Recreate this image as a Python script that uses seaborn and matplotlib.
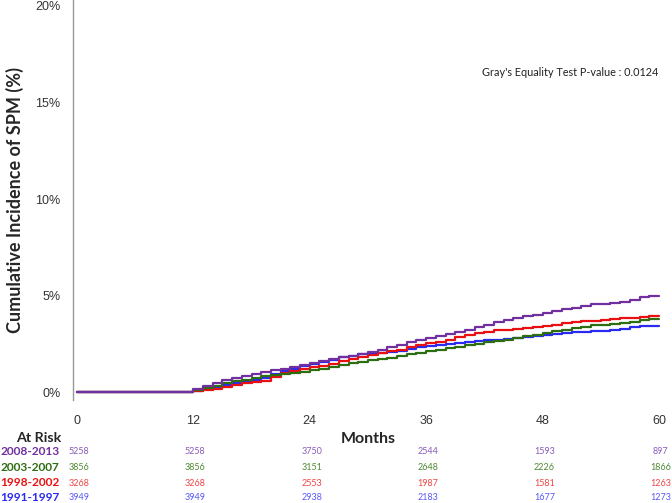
import matplotlib as mpl
import matplotlib.pyplot as plt
import matplotlib.transforms as mtransforms
import seaborn as sns
import pandas as pd
import numpy as np

# Months at which the curves are read (monthly from 12 on)
months = [0] + list(range(12, 61))

# Cumulative incidence (%) per period
inc_2008 = [0, 0, 0.15, 0.33, 0.48, 0.62, 0.72, 0.82, 0.95, 1.05, 1.13, 1.22, 1.32, 1.42,
            1.5, 1.6, 1.7, 1.8, 1.88, 1.98, 2.08, 2.2, 2.32, 2.45, 2.58, 2.7, 2.8, 2.9,
            3.0, 3.1, 3.22, 3.35, 3.5, 3.65, 3.75, 3.85, 3.92, 4.0, 4.1, 4.2, 4.28, 4.35,
            4.45, 4.55, 4.57, 4.6, 4.68, 4.75, 4.95, 4.98]
inc_2003 = [0, 0, 0.1, 0.2, 0.32, 0.45, 0.55, 0.65, 0.74, 0.82, 0.88, 0.95, 1.0, 1.05,
            1.12, 1.2, 1.3, 1.4, 1.5, 1.58, 1.65, 1.72, 1.78, 1.85, 1.95, 2.05, 2.12, 2.2,
            2.28, 2.35, 2.42, 2.5, 2.58, 2.65, 2.72, 2.8, 2.88, 2.95, 3.05, 3.15, 3.22, 3.3,
            3.38, 3.45, 3.5, 3.55, 3.6, 3.65, 3.72, 3.78]
inc_1998 = [0, 0, 0.05, 0.12, 0.18, 0.25, 0.35, 0.45, 0.52, 0.6, 0.8, 1.0, 1.1, 1.2,
            1.28, 1.35, 1.48, 1.6, 1.7, 1.8, 1.92, 2.05, 2.12, 2.2, 2.32, 2.45, 2.52, 2.6,
            2.72, 2.85, 2.95, 3.05, 3.12, 3.2, 3.22, 3.25, 3.3, 3.35, 3.42, 3.5, 3.56, 3.62,
            3.66, 3.7, 3.74, 3.78, 3.82, 3.85, 3.9, 3.95]
inc_1991 = [0, 0, 0.07, 0.15, 0.25, 0.35, 0.45, 0.55, 0.65, 0.75, 0.92, 1.1, 1.22, 1.35,
            1.45, 1.55, 1.68, 1.8, 1.88, 1.95, 2.0, 2.05, 2.1, 2.15, 2.25, 2.35, 2.4, 2.45,
            2.5, 2.55, 2.6, 2.65, 2.68, 2.72, 2.76, 2.8, 2.85, 2.9, 2.95, 3.0, 3.05, 3.1,
            3.12, 3.15, 3.18, 3.22, 3.28, 3.35, 3.4, 3.42]

groups = ["2008-2013", "2003-2007", "1998-2002", "1991-1997"]
colors = ["#7030A0", "#2E6E12", "#E81010", "#2A2AF0"]
risk_colors = ["#8A5CB8", "#4F8A33", "#F04545", "#5A5AF5"]

# Numbers at risk
risk_months = [0, 12, 24, 36, 48, 60]
risk_2008 = [5258, 5258, 3750, 2544, 1593, 897]
risk_2003 = [3856, 3856, 3151, 2648, 2226, 1866]
risk_1998 = [3268, 3268, 2553, 1987, 1581, 1263]
risk_1991 = [3949, 3949, 2938, 2183, 1677, 1273]

curves = [inc_2008, inc_2003, inc_1998, inc_1991]
risks = [risk_2008, risk_2003, risk_1998, risk_1991]

df = pd.concat([pd.DataFrame({"Months": months, "Incidence": c, "Period": g})
                for g, c in zip(groups, curves)], ignore_index=True)

sns.set_style("white")
plt.rcParams['font.family'] = ['Liberation Sans', 'DejaVu Sans']
lato = ["Lato", "DejaVu Sans"]

fig = plt.figure(figsize=(6.72, 5.03), dpi=100)
ax = fig.add_axes([73 / 672, 103 / 503, 592 / 672, 400 / 503])

# draw oldest first so the most recent lies on top
order = list(reversed(groups))
sns.lineplot(data=df, x="Months", y="Incidence", hue="Period", hue_order=order,
             palette=dict(zip(groups, colors)), drawstyle="steps-pre",
             linewidth=1.6, legend=False, ax=ax, estimator=None)

ax.set_xlim(-0.41, 60.62)
ax.set_ylim(-0.41, 20.31)
ax.set_xticks(risk_months)
ax.set_xticks(np.arange(6, 60, 12), minor=True)
ax.set_yticks([0, 5, 10, 15, 20])
ax.set_yticks([v for v in np.arange(0, 20, 5 / 3) if round(v, 3) % 5 != 0], minor=True)
ax.set_yticklabels([f"{v}%" for v in [0, 5, 10, 15, 20]])
ax.tick_params(axis="both", which="major", length=6, width=0.8, color="#999999",
               labelsize=9, labelcolor="#333333")
ax.tick_params(axis="both", which="minor", length=3, width=0.8, color="#999999")
ax.tick_params(axis="y", pad=3)
ax.tick_params(axis="x", pad=5)

for s in ["top", "right", "bottom"]:
    ax.spines[s].set_visible(False)
ax.spines["left"].set_color("#999999")
ax.spines["left"].set_linewidth(1.0)

ax.set_xlabel("")
ax.set_ylabel("")
fig.text(15 / 672, 1 - 200 / 503, "Cumulative Incidence of SPM (%)", family=lato,
         fontsize=13, fontweight="bold", rotation=90, ha="center", va="center")

ax.text(0.691, 0.82, "Gray's Equality Test P-value : 0.0124", transform=ax.transAxes,
        family=lato, fontsize=7.8, color="#222222", ha="left", va="center")

# Risk table below the axis
tr = mtransforms.blended_transform_factory(ax.transData, fig.transFigure)
fig.text(368 / 672, 1 - 439 / 503, "Months", family=lato,
         fontsize=11.5, fontweight="bold", ha="center", va="center")
fig.text(61 / 672, 1 - 437.5 / 503, "At Risk", family=lato,
         fontsize=10.3, fontweight="bold", ha="right", va="center")
row_y = [451.5, 467.5, 483, 497.5]
for g, c, rc, r, yy in zip(groups, colors, risk_colors, risks, row_y):
    fig.text(0.5 / 672, 1 - yy / 503, g, family=lato, fontsize=8.6,
             fontweight="bold", color=c, ha="left", va="center")
    for m, n in zip(risk_months, r):
        ax.text(m + 0.2, 1 - yy / 503, str(n), transform=tr, family=lato,
                fontsize=6.5, color=rc, ha="center", va="center", clip_on=False)

plt.savefig("out.png", dpi=100)
